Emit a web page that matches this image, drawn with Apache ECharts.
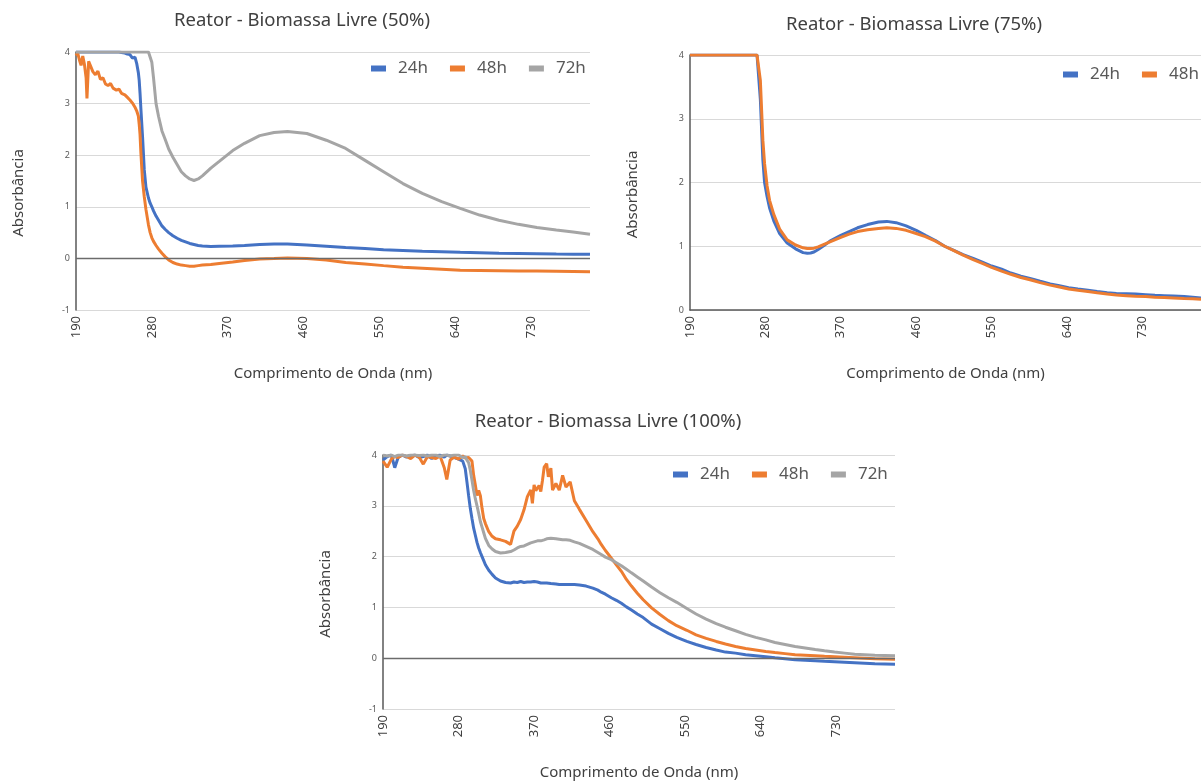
<!DOCTYPE html>
<html><head><meta charset="utf-8">
<script src="https://cdn.jsdelivr.net/npm/echarts@6/dist/echarts.min.js"></script>
<style>html,body{margin:0;padding:0;background:#fff;overflow:hidden}#c{width:1201px;height:782px}</style>
</head><body><div id="c"></div>
<script>
// ---------- data ----------
const xTicks = [190, 280, 370, 460, 550, 640, 730];
const titles = ['Reator - Biomassa Livre (50%)', 'Reator - Biomassa Livre (75%)', 'Reator - Biomassa Livre (100%)'];
const names = ['24h', '48h', '72h'];

const wl50 = [190,192,194,196,198,200,202,203,205,207,
 210,213,216,219,222,225,228,231,234,238,
 241,244,248,251,254,257,260,262,264,265,
 266,267,269,271,273,276,278,280,282,285,
 288,292,296,300,305,310,315,320,325,330,
 335,340,350,360,376,390,408,425,441,464,
 487,510,533,555,578,601,624,646,669,692,
 715,737,760,780,800];
const a50_24 = [4,4,4,4,4,4,4,4,4,4,
 4,4,4,4,4,4,4,4,4,4,
 4,3.99,3.98,3.96,3.95,3.88,3.9,3.78,3.6,3.45,
 3.2,2.9,2.35,1.72,1.38,1.17,1.07,1.0,0.92,0.82,
 0.74,0.63,0.56,0.5,0.44,0.39,0.35,0.32,0.29,0.27,
 0.25,0.24,0.23,0.235,0.24,0.25,0.27,0.28,0.28,0.26,
 0.235,0.21,0.19,0.17,0.155,0.14,0.13,0.12,0.11,0.1,
 0.095,0.09,0.085,0.082,0.08];
const a50_48 = [3.93,3.98,3.85,3.74,3.92,3.76,3.5,3.1,3.82,3.8,
 3.62,3.56,3.63,3.47,3.5,3.38,3.35,3.39,3.3,3.26,
 3.28,3.2,3.17,3.12,3.07,3.01,2.93,2.86,2.76,2.6,
 2.4,2.05,1.5,1.2,0.95,0.65,0.5,0.4,0.33,0.25,
 0.18,0.1,0.03,-0.03,-0.08,-0.11,-0.13,-0.14,-0.15,-0.15,
 -0.14,-0.13,-0.12,-0.1,-0.07,-0.04,-0.01,0,0.01,0,
 -0.03,-0.08,-0.11,-0.14,-0.17,-0.19,-0.21,-0.23,-0.235,-0.24,
 -0.245,-0.245,-0.25,-0.255,-0.26];
const a50_72 = [4,4,4,4,4,4,4,4,4,4,
 4,4,4,4,4,4,4,4,4,4,
 4,4,4,4,4,4,4,4,4,4,
 4,4,4,4,4,4,4,3.8,3.5,3.0,
 2.75,2.47,2.3,2.12,1.96,1.82,1.68,1.6,1.54,1.51,
 1.54,1.6,1.75,1.88,2.09,2.23,2.38,2.44,2.46,2.42,
 2.29,2.13,1.9,1.68,1.45,1.26,1.1,0.97,0.84,0.74,
 0.66,0.6,0.55,0.51,0.47];

const wl75 = [190,200,220,240,260,270,272,274,277,279,
 282,285,290,297,306,316,325,330,334,338,
 343,350,357,370,380,390,402,415,425,436,
 448,460,471,483,494,505,516,528,539,550,
 562,573,585,597,608,620,631,642,653,665,
 676,688,699,711,722,734,745,756,767,780,
 790,800];
const a75_24 = [4,4,4,4,4,4,4,3.3,2.35,2.0,
 1.78,1.6,1.4,1.2,1.05,0.96,0.9,0.89,0.895,0.91,
 0.95,1.01,1.08,1.17,1.23,1.29,1.34,1.38,1.39,1.37,
 1.32,1.25,1.17,1.09,1.0,0.935,0.87,0.81,0.75,0.69,
 0.64,0.58,0.53,0.49,0.45,0.41,0.38,0.35,0.33,0.31,
 0.29,0.27,0.26,0.255,0.25,0.24,0.23,0.225,0.22,0.21,
 0.2,0.19];
const a75_48 = [4,4,4,4,4,4,4,3.6,2.66,2.3,
 1.95,1.72,1.5,1.27,1.1,1.02,0.975,0.965,0.965,0.97,
 0.99,1.03,1.07,1.14,1.19,1.23,1.26,1.28,1.29,1.28,
 1.25,1.2,1.15,1.08,1.0,0.93,0.86,0.79,0.73,0.67,
 0.61,0.56,0.51,0.47,0.43,0.39,0.36,0.33,0.31,0.29,
 0.27,0.25,0.235,0.225,0.215,0.21,0.2,0.195,0.19,0.18,
 0.175,0.17];

const wl100 = [190,195,200,204,208,213,218,223,228,233,
 238,243,248,253,258,263,266,270,275,280,
 285,288,290,292,294,296,298,300,302,304,
 306,308,310,312,316,320,324,330,336,342,
 346,350,354,358,362,366,368,370,372,374,
 376,378,380,382,385,387,390,392,396,400,
 404,408,413,418,424,432,440,446,450,455,
 462,468,474,480,486,493,500,510,520,530,
 540,552,563,575,587,598,610,622,634,646,
 657,669,681,693,705,716,728,740,752,764,
 776,788,800];
const a100_24 = [3.9,3.97,4,3.75,3.95,4,3.96,3.98,4,3.95,
 3.97,4,3.93,3.98,4,3.96,4,3.98,3.95,3.92,
 3.88,3.73,3.47,3.2,2.95,2.75,2.56,2.42,2.28,2.17,
 2.08,2.0,1.92,1.84,1.73,1.65,1.58,1.52,1.49,1.48,
 1.5,1.49,1.51,1.49,1.5,1.5,1.49,1.51,1.49,1.5,
 1.49,1.48,1.49,1.48,1.48,1.47,1.47,1.46,1.46,1.45,
 1.45,1.45,1.45,1.45,1.44,1.42,1.38,1.34,1.3,1.26,
 1.19,1.14,1.08,1.01,0.95,0.87,0.8,0.67,0.58,0.49,
 0.41,0.33,0.27,0.21,0.16,0.12,0.1,0.07,0.05,0.03,
 0.01,-0.01,-0.03,-0.04,-0.05,-0.06,-0.07,-0.08,-0.09,-0.1,
 -0.11,-0.115,-0.12];
const a100_48 = [3.88,3.76,3.92,3.97,3.95,4,3.97,3.93,4,3.96,
 3.82,3.97,3.95,3.93,3.98,3.75,3.52,3.9,3.96,3.92,
 3.98,3.94,3.97,3.95,3.98,3.88,3.6,3.41,3.2,3.3,
 3.2,2.95,2.75,2.65,2.49,2.4,2.35,2.33,2.3,2.24,
 2.5,2.6,2.73,2.92,3.18,3.31,3.05,3.41,3.3,3.31,
 3.4,3.28,3.5,3.76,3.83,3.57,3.74,3.31,3.44,3.31,
 3.6,3.37,3.47,3.1,2.93,2.71,2.49,2.35,2.24,2.12,
 1.97,1.84,1.71,1.55,1.42,1.28,1.15,0.99,0.86,0.74,
 0.64,0.55,0.46,0.39,0.33,0.28,0.23,0.19,0.16,0.13,
 0.11,0.09,0.07,0.06,0.05,0.04,0.03,0.02,0.01,0,
 -0.01,-0.015,-0.02];
const a100_72 = [4,3.98,4,3.97,4,4,3.98,4,4,3.99,
 4,3.98,4,4,3.97,4,4,3.98,4,4,
 3.95,3.97,3.9,3.85,3.7,3.51,3.3,3.14,3.0,2.85,
 2.69,2.58,2.47,2.36,2.22,2.15,2.1,2.07,2.08,2.1,
 2.13,2.17,2.2,2.21,2.24,2.27,2.26,2.29,2.28,2.31,
 2.32,2.31,2.33,2.33,2.35,2.34,2.36,2.35,2.35,2.34,
 2.33,2.33,2.32,2.29,2.26,2.2,2.14,2.08,2.04,1.99,
 1.94,1.88,1.82,1.75,1.68,1.6,1.52,1.4,1.29,1.19,
 1.1,0.98,0.87,0.77,0.68,0.61,0.54,0.47,0.41,0.36,
 0.31,0.27,0.23,0.2,0.17,0.145,0.12,0.1,0.08,0.07,
 0.06,0.055,0.05];

// ---------- styling ----------
const colors = {'24h': '#4472C4', '48h': '#ED7D31', '72h': '#A5A5A5'};
const FONT = 'Noto Sans';
const grids = [
  {left: 76, top: 52, width: 514, height: 258},
  {left: 690, top: 55, width: 515, height: 255},
  {left: 383, top: 455, width: 512, height: 254}
];
const yMins = [-1, 0, -1];
const titlePos = [{x: 302, y: 11}, {x: 914, y: 15}, {x: 608, y: 412}];
const legendPos = [{x: 371, y: 60}, {x: 1063, y: 66}, {x: 673, y: 466}];

function pairs(xs, ys) { return xs.map((x, i) => [x, ys[i]]); }

const chartData = [
  {wl: wl50, vals: [a50_24, a50_48, a50_72]},
  {wl: wl75, vals: [a75_24, a75_48]},
  {wl: wl100, vals: [a100_24, a100_48, a100_72]}
];

const xAxes = [], yAxes = [], series = [], title = [], legend = [];
chartData.forEach((cd, gi) => {
  const hasNeg = yMins[gi] < 0;
  xAxes.push({
    type: 'value', gridIndex: gi, min: 190, max: 800,
    axisLine: {show: !hasNeg, onZero: false, lineStyle: {color: '#595959', width: 1.5}},
    axisTick: {show: false},
    splitLine: {show: false},
    axisLabel: {customValues: xTicks, rotate: 90, fontSize: 13, color: '#404040', margin: 6, fontFamily: FONT},
    name: 'Comprimento de Onda (nm)', nameLocation: 'middle', nameGap: 56,
    nameTextStyle: {fontSize: 15, color: '#404040', fontFamily: FONT}
  });
  yAxes.push({
    type: 'value', gridIndex: gi, min: yMins[gi], max: 4, interval: 1,
    axisLine: {show: true, lineStyle: {color: '#595959', width: 1.5}},
    axisTick: {show: false},
    splitLine: {show: true, lineStyle: {color: '#d9d9d9', width: 1.2}},
    axisLabel: {fontSize: 9, color: '#595959', margin: 6, fontFamily: FONT},
    name: 'Absorbância', nameLocation: 'middle', nameGap: 50,
    nameTextStyle: {fontSize: 15, color: '#404040', fontFamily: FONT, padding: [0, 24, 0, 0]}
  });
  cd.vals.forEach((v, si) => {
    const s = {
      type: 'line', name: names[si], xAxisIndex: gi, yAxisIndex: gi,
      data: pairs(cd.wl, v), showSymbol: false, symbol: 'none',
      lineStyle: {width: 3, color: colors[names[si]]}, itemStyle: {color: colors[names[si]]},
      silent: true, animation: false
    };
    if (si === 0 && hasNeg) {
      s.markLine = {silent: true, symbol: 'none', label: {show: false},
        lineStyle: {color: '#6b6b6b', width: 1.4, type: 'solid'}, data: [{yAxis: 0}], animation: false};
    }
    series.push(s);
  });
  title.push({text: titles[gi], left: titlePos[gi].x, top: titlePos[gi].y, textAlign: 'center', padding: 0,
    textStyle: {fontSize: 18.5, fontWeight: 'normal', color: '#404040', fontFamily: FONT}});
  legend.push({data: names.slice(0, cd.vals.length), left: legendPos[gi].x, top: legendPos[gi].y, padding: 0,
    icon: 'rect', itemWidth: 15, itemHeight: 6, itemGap: 22,
    textStyle: {fontSize: 17, color: '#595959', fontFamily: FONT, padding: [0, 0, 0, 7]}});
});

const chart = echarts.init(document.getElementById('c'), null, {renderer: 'canvas'});
chart.setOption({
  backgroundColor: '#ffffff',
  animation: false,
  textStyle: {fontFamily: FONT},
  title, legend, grid: grids, xAxis: xAxes, yAxis: yAxes, series
});
</script></body></html>
